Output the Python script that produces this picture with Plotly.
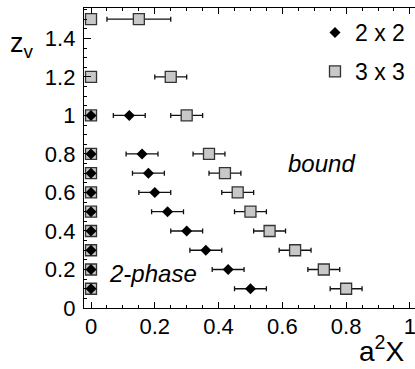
import plotly.graph_objects as go

# 2 x 2 lattice (diamonds)
zv_2x2 = [0.1, 0.2, 0.3, 0.4, 0.5, 0.6, 0.7, 0.8, 1.0]
a2x_2x2 = [0.50, 0.43, 0.36, 0.30, 0.24, 0.20, 0.18, 0.16, 0.12]
err_2x2 = [0.05, 0.05, 0.05, 0.05, 0.05, 0.05, 0.05, 0.05, 0.05]

# 3 x 3 lattice (squares)
zv_3x3 = [0.1, 0.2, 0.3, 0.4, 0.5, 0.6, 0.7, 0.8, 1.0, 1.2, 1.5]
a2x_3x3 = [0.80, 0.73, 0.64, 0.56, 0.50, 0.46, 0.42, 0.37, 0.30, 0.25, 0.15]
err_3x3 = [0.05, 0.05, 0.05, 0.05, 0.05, 0.05, 0.05, 0.05, 0.05, 0.05, 0.10]

x_ticks = [0, 0.2, 0.4, 0.6, 0.8, 1.0]
y_ticks = [0, 0.2, 0.4, 0.6, 0.8, 1.0, 1.2, 1.4]

FONT = "Liberation Sans, Arial, Helvetica, sans-serif"
SQ_FILL = "#c8c8c8"
SQ_LINE = "#333333"

W, H = 415, 369
ML, MR, MT, MB = 84, 0, 8, 61
PW, PH = W - ML - MR, H - MT - MB


def px(x):
    return (x - ML) / PW


def py(y):
    return (H - MB - y) / PH


fig = go.Figure()

sq_marker = dict(symbol="square", size=11, color=SQ_FILL, line=dict(color=SQ_LINE, width=1.3))
di_marker = dict(symbol="diamond", size=8.5, color="black", line=dict(width=0))

fig.add_trace(go.Scatter(x=[0] * len(zv_3x3), y=zv_3x3, mode="markers",
                         marker=sq_marker, showlegend=False, legendgroup="b"))
fig.add_trace(go.Scatter(x=a2x_3x3, y=zv_3x3, mode="markers", name="3 x 3",
                         marker=sq_marker,
                         error_x=dict(type="data", array=err_3x3, color="#111111",
                                      thickness=1.3, width=2.5),
                         legendgroup="b", legendrank=2))
fig.add_trace(go.Scatter(x=[0] * len(zv_2x2), y=zv_2x2, mode="markers",
                         marker=di_marker, showlegend=False, legendgroup="a"))
fig.add_trace(go.Scatter(x=a2x_2x2, y=zv_2x2, mode="markers", name="2 x 2",
                         marker=di_marker,
                         error_x=dict(type="data", array=err_2x2, color="#111111",
                                      thickness=1.3, width=2.5),
                         legendgroup="a", legendrank=1))

fig.add_annotation(x=0.724, y=0.75, xref="x", yref="y", text="<i>bound</i>",
                   showarrow=False, xanchor="center", yanchor="middle",
                   font=dict(size=24, family=FONT, color="black"))
fig.add_annotation(x=0.195, y=0.18, xref="x", yref="y", text="<i>2-phase</i>",
                   showarrow=False, xanchor="center", yanchor="middle",
                   font=dict(size=24, family=FONT, color="black"))
fig.add_annotation(x=px(21.5), y=py(45), xref="paper", yref="paper",
                   text="z<sub>v</sub>", showarrow=False,
                   xanchor="center", yanchor="middle",
                   font=dict(size=27, family=FONT, color="black"))
fig.add_annotation(x=px(381), y=py(349), xref="paper", yref="paper",
                   text="a<sup>2</sup>X", showarrow=False,
                   xanchor="center", yanchor="middle",
                   font=dict(size=28, family=FONT, color="black"))

fig.update_layout(
    width=W, height=H,
    margin=dict(l=ML, r=MR, t=MT, b=MB, autoexpand=False),
    paper_bgcolor="white", plot_bgcolor="white",
    font=dict(family=FONT, size=22, color="black"),
    legend=dict(x=px(335 - 20), y=py(11), xanchor="left", yanchor="top",
                bgcolor="rgba(0,0,0,0)", font=dict(size=23, family=FONT),
                tracegroupgap=6),
    xaxis=dict(range=[-0.022, 1.016], tickvals=x_ticks, ticks="inside", ticklen=6,
               tickwidth=1, tickcolor="black", showline=True, linecolor="black",
               linewidth=1.3, mirror="ticks", showgrid=False, zeroline=False,
               automargin=False, ticklabeloverflow="allow",
               minor=dict(dtick=0.05, ticks="inside", ticklen=3, tickcolor="black",
                          showgrid=False),
               ticklabelstandoff=-2),
    yaxis=dict(range=[0, 1.558], tickvals=y_ticks, ticks="inside", ticklen=7,
               tickwidth=1, tickcolor="black", showline=True, linecolor="black",
               linewidth=1.3, mirror=False, showgrid=False, zeroline=False,
               automargin=False, ticklabeloverflow="allow",
               minor=dict(dtick=0.05, ticks="inside", ticklen=3, tickcolor="black",
                          showgrid=False),
               ticklabelstandoff=3),
)

fig.write_html("out.html", config={"displayModeBar": False},
               post_script="document.body.style.margin='0';")
